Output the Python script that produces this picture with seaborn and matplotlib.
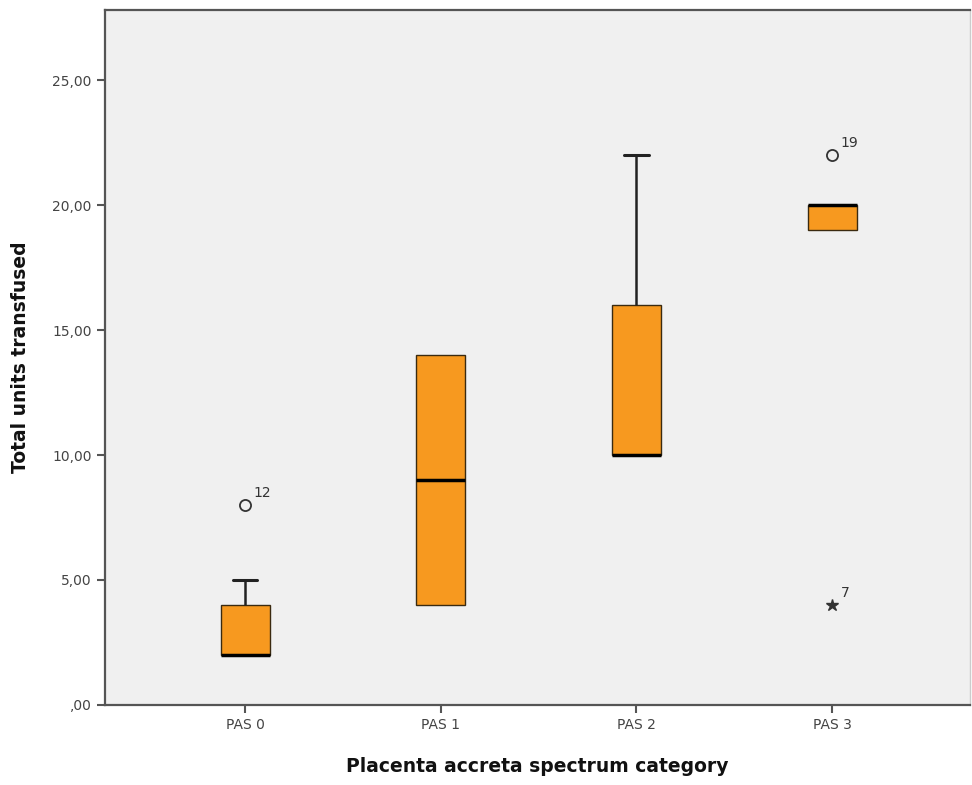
import pandas as pd
import matplotlib.pyplot as plt
import seaborn as sns
from matplotlib.ticker import FuncFormatter

categories = ['PAS 0', 'PAS 1', 'PAS 2', 'PAS 3']
pas0_units = [2, 2, 2, 2, 2, 4, 4, 5]
pas1_units = [4, 4, 9, 14, 14]
pas2_units = [10, 10, 10, 16, 22]
pas3_units = [19, 19, 19, 20, 20, 20, 20]

# outliers: category, value, case number, marker
outlier_cat = ['PAS 0', 'PAS 3', 'PAS 3']
outlier_val = [8, 22, 4]
outlier_case = ['12', '19', '7']
outlier_kind = ['o', 'o', '*']

y_ticks = [0, 5, 10, 15, 20, 25]

groups = [pas0_units, pas1_units, pas2_units, pas3_units]
df = pd.DataFrame({
    'category': [c for c, g in zip(categories, groups) for _ in g],
    'units': [v for g in groups for v in g],
})

sns.set_style('white')
plt.rcParams['font.family'] = ['DejaVu Sans']

fig = plt.figure(figsize=(9.72, 7.85), dpi=100)
ax = fig.add_axes([0.108, 0.102, 0.89, 0.885])
ax.set_facecolor('#f0f0f0')

sns.boxplot(data=df, x='category', y='units', order=categories, ax=ax,
            width=0.25, color='#f7991f', saturation=1, whis=1.5, showfliers=False,
            linecolor='#222222', linewidth=1.0,
            boxprops={'edgecolor': '#3a2a10', 'linewidth': 1.0},
            medianprops={'color': 'black', 'linewidth': 2.5},
            whiskerprops={'color': '#222222', 'linewidth': 1.8},
            capprops={'color': '#222222', 'linewidth': 2.2})

# SPSS style: no whisker / cap when the whisker ends on the box edge
lines = list(ax.lines)
whiskers = [l for l in lines if len(l.get_xdata()) == 2
            and l.get_xdata()[0] == l.get_xdata()[1]]
caps = [l for l in lines if len(l.get_xdata()) == 2
        and l.get_ydata()[0] == l.get_ydata()[1]
        and abs(l.get_xdata()[1] - l.get_xdata()[0]) < 0.2]
for w in whiskers:
    y0, y1 = w.get_ydata()
    if y0 == y1:
        w.set_visible(False)
        for c in caps:
            cx = sum(c.get_xdata()) / 2
            if c.get_ydata()[0] == y1 and abs(cx - w.get_xdata()[0]) < 1e-6:
                c.set_visible(False)

pos = {c: i for i, c in enumerate(categories)}
for c, v, case, m in zip(outlier_cat, outlier_val, outlier_case, outlier_kind):
    x = pos[c]
    if m == 'o':
        ax.plot(x, v, marker='o', ms=8, mfc='none', mec='#333333', mew=1.3, ls='none')
    else:
        ax.plot(x, v, marker='*', ms=9, color='#333333', ls='none')
    ax.annotate(case, (x, v), xytext=(6, 6), textcoords='offset points',
                fontsize=10, color='#333333')

ax.set_xlim(-0.716, 3.705)
ax.set_ylim(0, 27.8)
ax.set_yticks(y_ticks)


def comma_fmt(v, _):
    s = f'{v:.2f}'.replace('.', ',')
    return s[1:] if s.startswith('0') else s


ax.yaxis.set_major_formatter(FuncFormatter(comma_fmt))
ax.tick_params(axis='both', which='major', length=6, width=1.5, color='#555555',
               labelsize=10, labelcolor='#444444', direction='out',
               left=True, bottom=True)

for side in ['left', 'bottom', 'top']:
    ax.spines[side].set_color('#555555')
    ax.spines[side].set_linewidth(1.6)
ax.spines['right'].set_color('#cccccc')
ax.spines['right'].set_linewidth(1.0)

ax.set_xlabel('Placenta accreta spectrum category', fontsize=13.5, fontweight='bold',
              color='#111111', labelpad=18)
ax.set_ylabel('Total units transfused', fontsize=13.5, fontweight='bold',
              color='#111111', labelpad=16)

fig.savefig('out.png', dpi=100)
